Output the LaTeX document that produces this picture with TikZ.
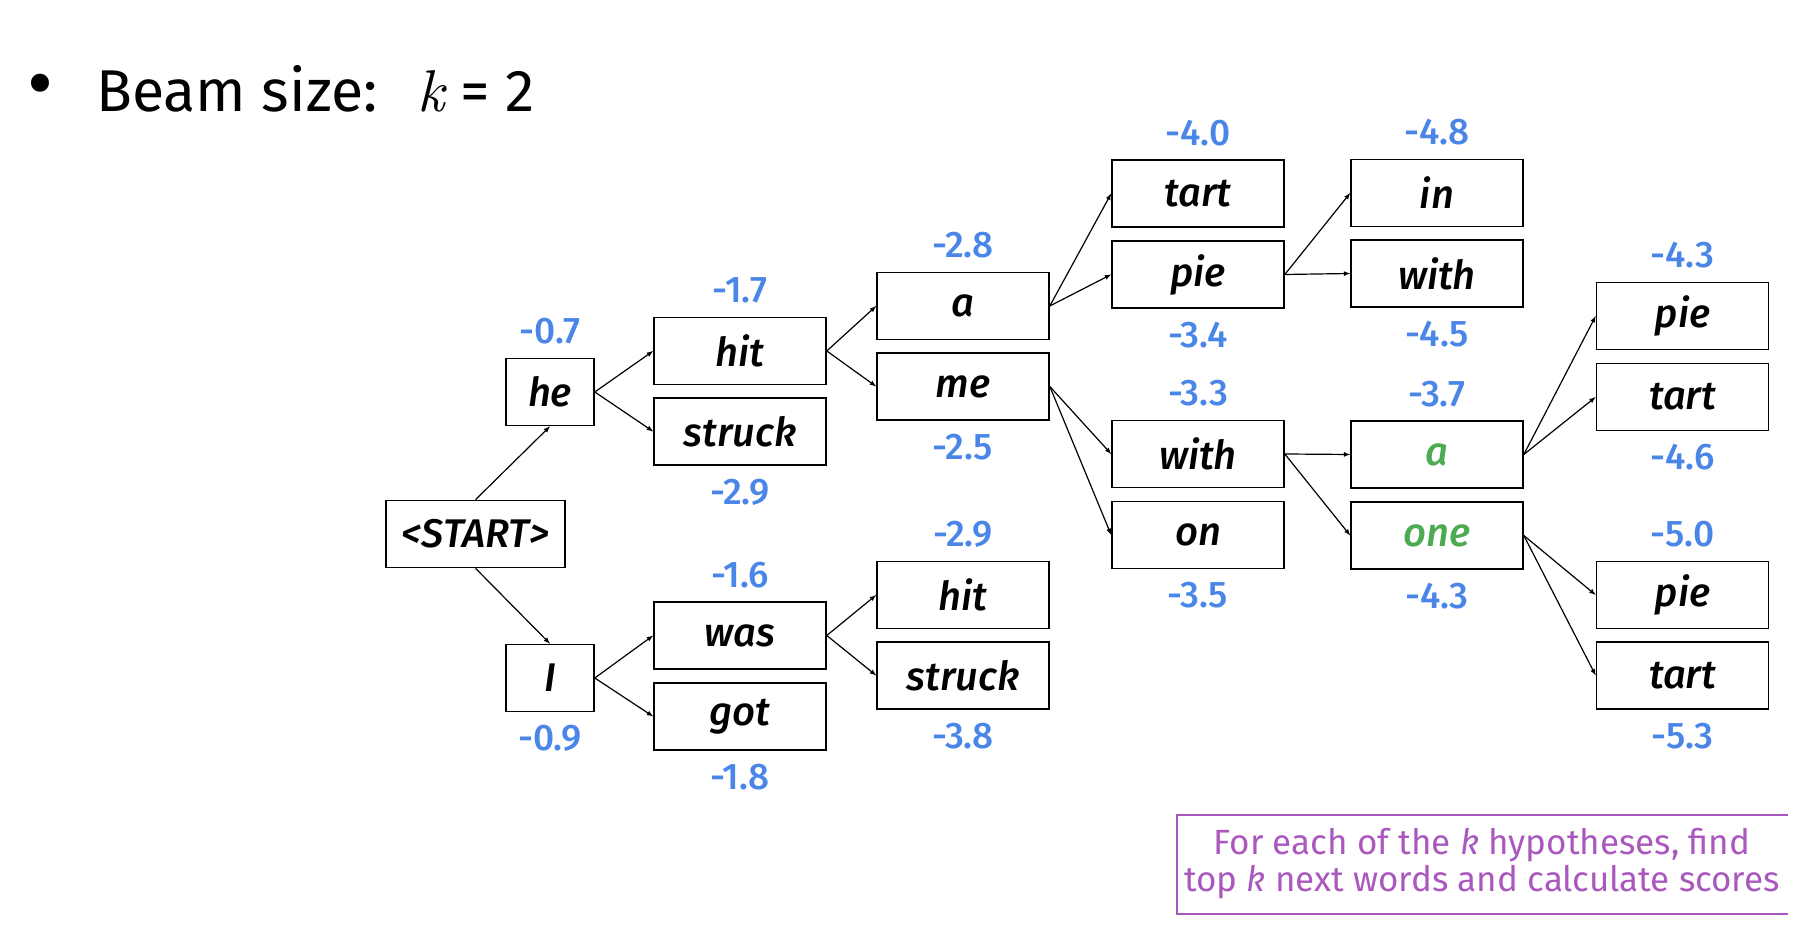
\documentclass[tikz,border=0pt]{standalone}
\usepackage{fontspec}
\setmainfont{Fira Sans}
\newfontfamily\mediumfont{Fira Sans Medium}
\newfontfamily\lmfont{lmroman10}[Extension=.otf, UprightFont=*-regular, ItalicFont=*-italic]
\usepackage{tikz}
\usetikzlibrary{arrows}
\definecolor{scoreblue}{RGB}{74,134,232}
\definecolor{keptgreen}{RGB}{76,170,80}
\definecolor{notepurple}{RGB}{170,88,190}
\tikzstyle{word}=[rectangle, draw, line width=1.6pt, minimum width=172pt, minimum height=67pt, inner sep=0pt, font=\fontsize{40}{48}\mediumfont\itshape]
\tikzstyle{shortbox}=[word, minimum width=88pt]
\tikzstyle{startbox}=[word, minimum width=179pt]
\tikzstyle{sc}=[text=scoreblue, inner sep=0pt, font=\fontsize{37}{44}\mediumfont\upshape]
\tikzstyle{kept}=[text=keptgreen]
\tikzstyle{edge}=[line width=1.2pt, -latex]

\begin{document}
\begin{tikzpicture}[x=1pt, y=1pt, label distance=13pt]
	\useasboundingbox (0,0) rectangle (1812,928);
	\draw (40,836) node[inner sep=0pt, font=\fontsize{80}{84}\selectfont] (bullet) {\textbullet};
	\draw (96,816) node[anchor=base west, inner sep=0pt, font=\fontsize{59}{70}\selectfont] (title) {Beam size:\hspace{40pt}{\lmfont\itshape k} = 2};
	% first step
	\draw (475.5,394) node[startbox] (start) {<START>};
	\draw (550,536) node[shortbox, label={[sc]above:-0.7}] (he) {he};
	\draw (550,250) node[shortbox, label={[sc]below:-0.9}] (I) {I};
	% second step
	\draw (740,577) node[word, label={[sc]above:-1.7}] (hit1) {hit};
	\draw (740,496.5) node[word, label={[sc]below:-2.9}] (struck1) {struck};
	\draw (740,292.5) node[word, label={[sc]above:-1.6}] (was) {was};
	\draw (740,211.5) node[word, label={[sc]below:-1.8}] (got) {got};
	% third step
	\draw (963,622) node[word, label={[sc]above:-2.8}] (a1) {a};
	\draw (963,541.5) node[word, label={[sc]below:-2.5}] (me) {me};
	\draw (963,333) node[word, label={[sc]above:-2.9}] (hit2) {hit};
	\draw (963,252.5) node[word, label={[sc]below:-3.8}] (struck2) {struck};
	% fourth step
	\draw (1198,734.5) node[word, label={[sc]above:-4.0}] (tart1) {tart};
	\draw (1198,653.5) node[word, label={[sc]below:-3.4}] (pie1) {pie};
	\draw (1198,474) node[word, label={[sc]above:-3.3}] (with1) {with};
	\draw (1198,393) node[word, label={[sc]below:-3.5}] (on) {on};
	% fifth step
	\draw (1437,735) node[word, label={[sc]above:-4.8}] (in) {in};
	\draw (1437,654.5) node[word, label={[sc]below:-4.5}] (with2) {with};
	\draw (1437,473.5) node[word, kept, label={[sc]above:-3.7}] (a2) {a};
	\draw (1437,392.5) node[word, kept, label={[sc]below:-4.3}] (one) {one};
	% sixth step
	\draw (1682.5,612) node[word, label={[sc]above:-4.3}] (pie2) {pie};
	\draw (1682.5,531) node[word, label={[sc]below:-4.6}] (tart2) {tart};
	\draw (1682.5,333) node[word, label={[sc]above:-5.0}] (pie3) {pie};
	\draw (1682.5,252.5) node[word, label={[sc]below:-5.3}] (tart3) {tart};
	% edges
	\draw[edge] (start.north) -- (he.south);
	\draw[edge] (start.south) -- (I.north);
	\draw[edge] (he.east) -- (hit1.west);
	\draw[edge] (he.east) -- (struck1.west);
	\draw[edge] (I.east) -- (was.west);
	\draw[edge] (I.east) -- (got.west);
	\draw[edge] (hit1.east) -- (a1.west);
	\draw[edge] (hit1.east) -- (me.west);
	\draw[edge] (was.east) -- (hit2.west);
	\draw[edge] (was.east) -- (struck2.west);
	\draw[edge] (a1.east) -- (tart1.west);
	\draw[edge] (a1.east) -- (pie1.west);
	\draw[edge] (me.east) -- (with1.west);
	\draw[edge] (me.east) -- (on.west);
	\draw[edge] (pie1.east) -- (in.west);
	\draw[edge] (pie1.east) -- (with2.west);
	\draw[edge] (with1.east) -- (a2.west);
	\draw[edge] (with1.east) -- (one.west);
	\draw[edge] (a2.east) -- (pie2.west);
	\draw[edge] (a2.east) -- (tart2.west);
	\draw[edge] (one.east) -- (pie3.west);
	\draw[edge] (one.east) -- (tart3.west);
	% note
	\draw (1482,64) node[align=center, text=notepurple, font=\fontsize{35}{37}\selectfont] (note) {For each of the \textit{k} hypotheses, find\\top \textit{k} next words and calculate scores};
	\draw[notepurple, line width=2.5pt] (1788,113) -- (1177,113) -- (1177,14) -- (1788,14);
\end{tikzpicture}
\end{document}
